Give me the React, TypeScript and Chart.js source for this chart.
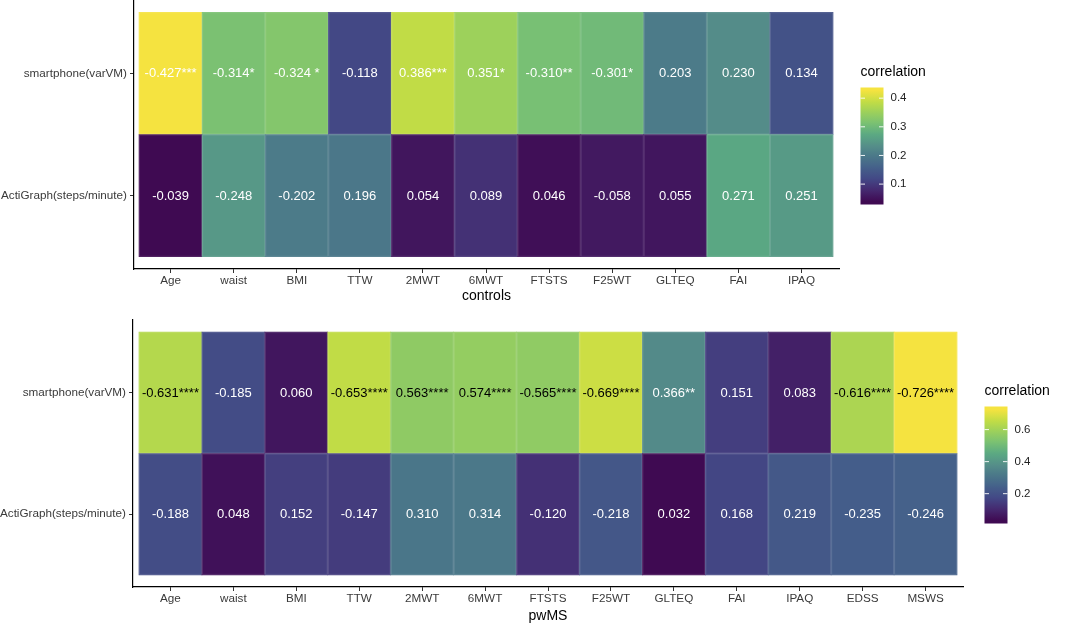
import React, { useEffect, useRef } from 'react';
import { Chart, registerables } from 'chart.js';

Chart.register(...registerables);

// ---------------- data ----------------
const ROW_LABELS = ['ActiGraph(steps/minute)', 'smartphone(varVM)'];

const CONTROLS_CATEGORIES = ['Age', 'waist', 'BMI', 'TTW', '2MWT', '6MWT', 'FTSTS', 'F25WT', 'GLTEQ', 'FAI', 'IPAQ'];
const CONTROLS_SMARTPHONE = [-0.427, -0.314, -0.324, -0.118, 0.386, 0.351, -0.310, -0.301, 0.203, 0.230, 0.134];
const CONTROLS_SMARTPHONE_SIG = ['***', '*', ' *', '', '***', '*', '**', '*', '', '', ''];
const CONTROLS_ACTIGRAPH = [-0.039, -0.248, -0.202, 0.196, 0.054, 0.089, 0.046, -0.058, 0.055, 0.271, 0.251];
const CONTROLS_ACTIGRAPH_SIG = ['', '', '', '', '', '', '', '', '', '', ''];
const CONTROLS_LEGEND_TICKS = [0.1, 0.2, 0.3, 0.4];

const PWMS_CATEGORIES = ['Age', 'waist', 'BMI', 'TTW', '2MWT', '6MWT', 'FTSTS', 'F25WT', 'GLTEQ', 'FAI', 'IPAQ', 'EDSS', 'MSWS'];
const PWMS_SMARTPHONE = [-0.631, -0.185, 0.060, -0.653, 0.563, 0.574, -0.565, -0.669, 0.366, 0.151, 0.083, -0.616, -0.726];
const PWMS_SMARTPHONE_SIG = ['****', '', '', '****', '****', '****', '****', '****', '**', '', '', '****', '****'];
const PWMS_ACTIGRAPH = [-0.188, 0.048, 0.152, -0.147, 0.310, 0.314, -0.120, -0.218, 0.032, 0.168, 0.219, -0.235, -0.246];
const PWMS_ACTIGRAPH_SIG = ['', '', '', '', '', '', '', '', '', '', '', '', ''];
const PWMS_LEGEND_TICKS = [0.2, 0.4, 0.6];

// ---------------- styles ----------------
const FONT = '"Liberation Sans", Arial, sans-serif';
const PALETTE = ['#3F0A52', '#45286F', '#434785', '#445F8A', '#4A7689', '#558E89', '#5AA883', '#78C074', '#9BD05C', '#C3DD45', '#F5E340'];

function hexToRgb(h: string) {
  const n = parseInt(h.slice(1), 16);
  return [(n >> 16) & 255, (n >> 8) & 255, n & 255];
}
const PAL_RGB = PALETTE.map(hexToRgb);

function colorAt(t: number) {
  const tt = Math.max(0, Math.min(1, t)) * (PAL_RGB.length - 1);
  const i = Math.min(PAL_RGB.length - 2, Math.floor(tt));
  const f = tt - i;
  const a = PAL_RGB[i], b = PAL_RGB[i + 1];
  const c = a.map((v, k) => Math.round(v + (b[k] - v) * f));
  return `rgb(${c[0]},${c[1]},${c[2]})`;
}

Chart.defaults.font.family = FONT;

type PanelProps = {
  categories: string[];
  smartphone: number[];
  smartphoneSig: string[];
  actigraph: number[];
  actigraphSig: string[];
  legendTicks: number[];
  title: string;
  top: number;
  height: number;
  padTop: number;
  padBottom: number;
  padRight: number;
  yWidth: number;
  xHeight: number;
  xPadL: number;
  xPadR: number;
};

function Panel(p: PanelProps) {
  const ref = useRef<HTMLCanvasElement | null>(null);

  useEffect(() => {
    if (!ref.current) return;
    const rows = [p.actigraph, p.smartphone];
    const sigs = [p.actigraphSig, p.smartphoneSig];
    const all = rows.flat().map(Math.abs);
    const vmin = Math.min(...all);
    const vmax = Math.max(...all);
    const norm = (v: number) => (Math.abs(v) - vmin) / (vmax - vmin);

    const datasets = rows.map((vals, r) => ({
      label: ROW_LABELS[r],
      data: vals.map((v, i) => ({ x: i, y: [r - 0.5, r + 0.5] })),
      backgroundColor: vals.map((v) => colorAt(norm(v))),
      borderWidth: 0,
      grouped: false,
      barPercentage: 1,
      categoryPercentage: 1,
    }));

    const tileText = {
      id: 'tileText',
      afterDatasetsDraw(chart: any) {
        const ctx = chart.ctx;
        ctx.save();
        // faint tile outlines
        ctx.strokeStyle = 'rgba(255,255,255,0.13)';
        ctx.lineWidth = 1;
        chart.data.datasets.forEach((_: any, di: number) => {
          const meta = chart.getDatasetMeta(di);
          meta.data.forEach((el: any) => {
            const { x, y, base, width } = el.getProps(['x', 'y', 'base', 'width'], true);
            ctx.strokeRect(x - width / 2 + 0.5, Math.min(y, base) + 0.5, width - 1, Math.abs(base - y) - 1);
          });
        });
        ctx.font = `13px ${FONT}`;
        ctx.textAlign = 'center';
        ctx.textBaseline = 'middle';
        chart.data.datasets.forEach((_: any, di: number) => {
          const meta = chart.getDatasetMeta(di);
          meta.data.forEach((el: any, i: number) => {
            const { x, y, base } = el.getProps(['x', 'y', 'base'], true);
            const v = rows[di][i];
            ctx.fillStyle = Math.abs(v) >= 0.5 ? '#000000' : '#ffffff';
            ctx.fillText(v.toFixed(3) + sigs[di][i], x, (y + base) / 2 + 0.5);
          });
        });
        ctx.restore();
      },
    };

    const colorbar = {
      id: 'colorbar',
      afterDraw(chart: any) {
        const { ctx, chartArea } = chart;
        const cy = (chartArea.top + chartArea.bottom) / 2;
        const x = chartArea.right + 21.5;
        const w = 23;
        const h = 117;
        const top = cy - 47;
        const bottom = top + h;
        ctx.save();
        ctx.font = `14px ${FONT}`;
        ctx.fillStyle = '#000';
        ctx.textAlign = 'left';
        ctx.textBaseline = 'middle';
        ctx.fillText('correlation', x, cy - 62);
        const d = (vmax - vmin) / 19;
        const lo = vmin - d / 2;
        const hi = vmax + d / 2;
        const grad = ctx.createLinearGradient(0, bottom, 0, top);
        for (let k = 0; k <= 40; k++) {
          const v = lo + ((hi - lo) * k) / 40;
          grad.addColorStop(k / 40, colorAt((v - vmin) / (vmax - vmin)));
        }
        ctx.fillStyle = grad;
        ctx.fillRect(x, top, w, h);
        ctx.strokeStyle = 'rgba(255,255,255,0.9)';
        ctx.lineWidth = 1;
        ctx.font = `11.5px ${FONT}`;
        p.legendTicks.forEach((tv) => {
          const ty = bottom - ((tv - lo) / (hi - lo)) * h;
          ctx.beginPath();
          ctx.moveTo(x, ty);
          ctx.lineTo(x + 4.5, ty);
          ctx.moveTo(x + w - 4.5, ty);
          ctx.lineTo(x + w, ty);
          ctx.stroke();
          ctx.fillStyle = '#222';
          ctx.fillText(tv.toFixed(1), x + w + 7, ty);
        });
        ctx.restore();
      },
    };

    const n = p.categories.length;
    const chart = new Chart(ref.current, {
      type: 'bar',
      data: { datasets: datasets as any },
      plugins: [tileText, colorbar],
      options: {
        animation: false,
        responsive: false,
        maintainAspectRatio: false,
        devicePixelRatio: 1,
        layout: { padding: { left: 0, top: p.padTop, right: p.padRight, bottom: p.padBottom } },
        plugins: { legend: { display: false }, tooltip: { enabled: false }, title: { display: false } },
        scales: {
          x: {
            type: 'linear',
            offset: false,
            min: -0.5 - p.xPadL,
            max: n - 0.5 + p.xPadR,
            afterBuildTicks: (s: any) => {
              s.ticks = p.categories.map((_, i) => ({ value: i }));
            },
            afterFit: (s: any) => {
              s.height = p.xHeight;
              s.paddingLeft = 0;
              s.paddingRight = 0;
            },
            ticks: {
              callback: (_v: any, i: number) => p.categories[i],
              font: { size: 11.7 },
              color: '#3a3a3a',
              padding: 1,
              autoSkip: false,
              maxRotation: 0,
            },
            grid: { offset: false, drawOnChartArea: false, drawTicks: true, tickLength: 4, color: '#333', lineWidth: 1 },
            border: { display: true, color: '#000', width: 1.2 },
            title: { display: true, text: p.title, font: { size: 14 }, color: '#000', padding: 0 },
          },
          y: {
            type: 'linear',
            offset: false,
            min: -0.6,
            max: 1.6,
            afterBuildTicks: (s: any) => {
              s.ticks = ROW_LABELS.map((_, i) => ({ value: i }));
            },
            afterFit: (s: any) => {
              s.width = p.yWidth;
              s.paddingTop = 0;
              s.paddingBottom = 0;
            },
            ticks: {
              callback: (_v: any, i: number) => ROW_LABELS[i],
              font: { size: 11.7 },
              color: '#3a3a3a',
              padding: 3,
              autoSkip: false,
            },
            grid: { offset: false, drawOnChartArea: false, drawTicks: true, tickLength: 4, color: '#333', lineWidth: 1 },
            border: { display: true, color: '#000', width: 1.2 },
          },
        },
      } as any,
    });
    return () => chart.destroy();
  }, []);

  return (
    <canvas
      ref={ref}
      width={1074}
      height={p.height}
      style={{ position: 'absolute', left: 0, top: p.top, width: 1074, height: p.height }}
    />
  );
}

export default function App() {
  return (
    <div style={{ position: 'absolute', left: 0, top: 0, width: 1074, height: 626, background: '#fff', overflow: 'hidden' }}>
      <Panel
        categories={CONTROLS_CATEGORIES}
        smartphone={CONTROLS_SMARTPHONE}
        smartphoneSig={CONTROLS_SMARTPHONE_SIG}
        actigraph={CONTROLS_ACTIGRAPH}
        actigraphSig={CONTROLS_ACTIGRAPH_SIG}
        legendTicks={CONTROLS_LEGEND_TICKS}
        title="controls"
        top={0}
        height={306}
        padTop={0}
        padBottom={1}
        padRight={235}
        yWidth={134}
        xHeight={36}
        xPadL={0.08}
        xPadR={0.095}
      />
      <Panel
        categories={PWMS_CATEGORIES}
        smartphone={PWMS_SMARTPHONE}
        smartphoneSig={PWMS_SMARTPHONE_SIG}
        actigraph={PWMS_ACTIGRAPH}
        actigraphSig={PWMS_ACTIGRAPH_SIG}
        legendTicks={PWMS_LEGEND_TICKS}
        title="pwMS"
        top={306}
        height={320}
        padTop={14}
        padBottom={1.6}
        padRight={111}
        yWidth={133}
        xHeight={37.4}
        xPadL={0.095}
        xPadR={0.095}
      />
    </div>
  );
}
